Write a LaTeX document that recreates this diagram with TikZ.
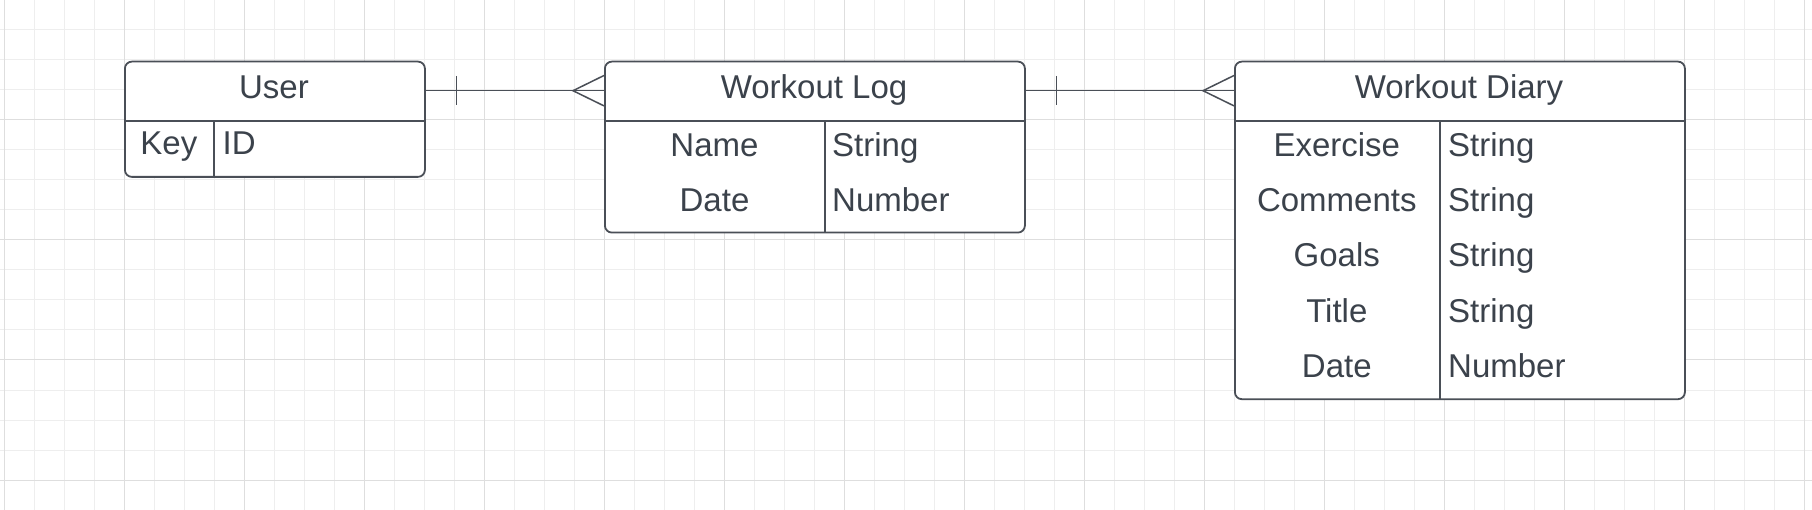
\documentclass[tikz,border=0pt]{standalone}
\usepackage{fontspec}
\setmainfont{Liberation Sans}
\usetikzlibrary{calc}
\definecolor{gridminor}{HTML}{EEEEEE}
\definecolor{gridmajor}{HTML}{DEDEDE}
\definecolor{edge}{HTML}{4A4F57}
\definecolor{ink}{HTML}{3B424B}
\tikzset{
  tbox/.style={draw=edge, line width=1.8pt, rounded corners=7pt, fill=white, anchor=north west, inner sep=0pt},
  sep/.style={draw=edge, line width=1.8pt},
  conn/.style={draw=edge, line width=1.5pt},
  txt/.style={text=ink, font=\fontsize{33}{40}\selectfont, anchor=base, inner sep=0pt},
  ltxt/.style={txt, anchor=base west},
}
\begin{document}
\begin{tikzpicture}[x=1pt,y=-1pt]
\fill[white] (0,0) rectangle (1812,510);
\useasboundingbox (0,0) rectangle (1812,510);
% grid
\foreach \x in {4,34,...,1804} \draw[gridminor, line width=1pt] (\x,0) -- (\x,510);
\foreach \y in {0,30,...,510} \draw[gridminor, line width=1pt] (0,\y) -- (1812,\y);
\foreach \x in {4,124,...,1804} \draw[gridmajor, line width=1pt] (\x,0) -- (\x,510);
\foreach \y in {0,120,...,480} \draw[gridmajor, line width=1pt] (0,\y) -- (1812,\y);

% User table
\node[tbox, minimum width=300pt, minimum height=115.3pt] (user) at (124,60.7) {};
\draw[sep] ($(user.north west)+(0,60)$) -- ($(user.north east)+(0,60)$);
\draw[sep] ($(user.north west)+(89.7,60)$) -- ($(user.south west)+(89.7,0)$);
\node[txt] (userh) at (274,99) {User};
\node[txt] (userk) at (168.9,155) {Key};
\node[ltxt] (userid) at (222.5,155) {ID};

% Workout Log table
\node[tbox, minimum width=420pt, minimum height=171pt] (wl) at (604,60.7) {};
\draw[sep] ($(wl.north west)+(0,60)$) -- ($(wl.north east)+(0,60)$);
\draw[sep] ($(wl.north west)+(221,60)$) -- ($(wl.south west)+(221,0)$);
\node[txt] (wlh) at (814,99) {Workout Log};
\node[txt] (wln) at (714.5,156.5) {Name};
\node[txt] (wld) at (714.5,212) {Date};
\node[ltxt] (wlnt) at (832,156.5) {String};
\node[ltxt] (wldt) at (832,212) {Number};

% Workout Diary table
\node[tbox, minimum width=450pt, minimum height=337.6pt] (wd) at (1234,60.7) {};
\draw[sep] ($(wd.north west)+(0,60)$) -- ($(wd.north east)+(0,60)$);
\draw[sep] ($(wd.north west)+(205.7,60)$) -- ($(wd.south west)+(205.7,0)$);
\node[txt] (wdh) at (1459,99) {Workout Diary};
\node[txt] (wd1) at (1336.8,156.5) {Exercise};
\node[txt] (wd2) at (1336.8,211.8) {Comments};
\node[txt] (wd3) at (1336.8,267) {Goals};
\node[txt] (wd4) at (1336.8,322.3) {Title};
\node[txt] (wd5) at (1336.8,377.5) {Date};
\node[ltxt] (wd1t) at (1448,156.5) {String};
\node[ltxt] (wd2t) at (1448,211.8) {String};
\node[ltxt] (wd3t) at (1448,267) {String};
\node[ltxt] (wd4t) at (1448,322.3) {String};
\node[ltxt] (wd5t) at (1448,377.5) {Number};

% connectors: one to many
\coordinate (c1s) at ($(user.north east)+(0,30)$);
\coordinate (c1e) at ($(wl.north west)+(0,30)$);
\draw[conn] (c1s) -- (c1e);
\draw[conn] ($(c1s)+(30.7,-14.75)$) -- ($(c1s)+(30.7,14.75)$);
\draw[conn] ($(c1e)+(0,-15.2)$) -- ($(c1e)+(-31,0)$) -- ($(c1e)+(0,15.2)$);

\coordinate (c2s) at ($(wl.north east)+(0,30)$);
\coordinate (c2e) at ($(wd.north west)+(0,30)$);
\draw[conn] (c2s) -- (c2e);
\draw[conn] ($(c2s)+(30.7,-14.75)$) -- ($(c2s)+(30.7,14.75)$);
\draw[conn] ($(c2e)+(0,-15.2)$) -- ($(c2e)+(-31,0)$) -- ($(c2e)+(0,15.2)$);
\end{tikzpicture}
\end{document}
